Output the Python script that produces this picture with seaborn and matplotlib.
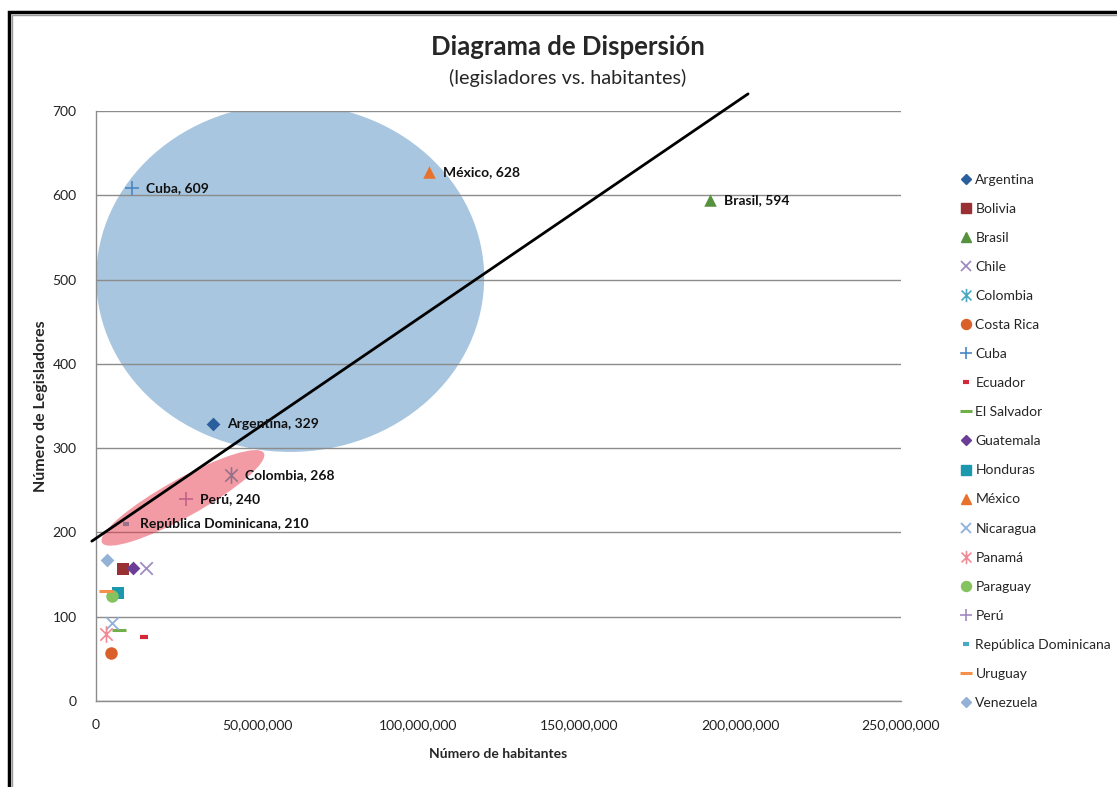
import matplotlib
matplotlib.use("Agg")
import matplotlib.pyplot as plt
from matplotlib.patches import Ellipse, Rectangle
from matplotlib.lines import Line2D
from matplotlib.path import Path
from matplotlib.ticker import FuncFormatter
import matplotlib.transforms as mtransforms
import seaborn as sns
import numpy as np

# data
paises = ["Argentina", "Bolivia", "Brasil", "Chile", "Colombia", "Costa Rica",
          "Cuba", "Ecuador", "El Salvador", "Guatemala", "Honduras", "México",
          "Nicaragua", "Panamá", "Paraguay", "Perú", "República Dominicana",
          "Uruguay", "Venezuela"]
habitantes = [36.3e6, 8.5e6, 190.7e6, 15.4e6, 41.9e6, 4.6e6,
              11.2e6, 15.0e6, 7.1e6, 11.4e6, 6.7e6, 103.4e6,
              5.1e6, 3.0e6, 5.1e6, 27.9e6, 9.3e6,
              3.1e6, 3.3e6]
legisladores = [329, 157, 594, 158, 268, 57,
                609, 76, 84, 158, 128, 628,
                92, 80, 125, 240, 210,
                130, 167]
etiquetados = ["Argentina", "Brasil", "Colombia", "Cuba", "México", "Perú",
               "República Dominicana"]

# trend line
tendencia_intercepto = 193
tendencia_pendiente = 2.604e-6
tendencia_x = [-1.3e6, 202.5e6]

# excel-style star: an x with a vertical bar
estrella = Path([(-1, -1), (1, 1), (-1, 1), (1, -1), (0, -1.35), (0, 1.35)],
                [Path.MOVETO, Path.LINETO] * 3)

# styles per country: marker, colour, size, edge width
estilos = {
    "Argentina": ("D", "#2a5e9c", 7, 0),
    "Bolivia": ("s", "#983034", 9, 0),
    "Brasil": ("^", "#55913f", 9, 0),
    "Chile": ("x", "#9f8cc2", 9, 1.3),
    "Colombia": (estrella, "#4aa9c3", 12, 1.2),
    "Costa Rica": ("o", "#d9602a", 9, 0),
    "Cuba": ("+", "#4a86c4", 10, 1.2),
    "Ecuador": ("_", "#d4283a", 6, 3),
    "El Salvador": ("_", "#71b047", 10, 2.2),
    "Guatemala": ("D", "#6a3e96", 7, 0),
    "Honduras": ("s", "#1c98ae", 9, 0),
    "México": ("^", "#e8722d", 9, 0),
    "Nicaragua": ("x", "#8fb0d8", 9, 1.3),
    "Panamá": (estrella, "#f08a94", 12, 1.2),
    "Paraguay": ("o", "#85c35f", 9, 0),
    "Perú": ("+", "#a28ac2", 10, 1.2),
    "República Dominicana": ("_", "#49aac8", 5, 3),
    "Uruguay": ("_", "#f5904a", 10, 2.2),
    "Venezuela": ("D", "#93b2d6", 7, 0),
}

sns.set_theme(style="white")
plt.rcParams["font.family"] = ["Lato", "DejaVu Sans"]

fig = plt.figure(figsize=(11.17, 7.87), dpi=100)
ax = fig.add_axes([96 / 1117, 86 / 787, 805 / 1117, 590 / 787])

ax.set_xlim(0, 250e6)
ax.set_ylim(0, 700)
ax.set_yticks(range(0, 701, 100))
ax.set_xticks(np.arange(0, 250e6 + 1, 50e6))
ax.xaxis.set_major_formatter(FuncFormatter(lambda v, p: "0" if v == 0 else f"{v:,.0f}"))
ax.yaxis.grid(True, color="#8c8c8c", linewidth=1.0)
ax.set_axisbelow(True)
for s in ["top", "right"]:
    ax.spines[s].set_visible(False)
for s in ["left", "bottom"]:
    ax.spines[s].set_color("#8c8c8c")
    ax.spines[s].set_linewidth(1.0)
ax.tick_params(axis="both", length=0, labelsize=10, colors="#222222")
ax.tick_params(axis="x", pad=13)
ax.tick_params(axis="y", pad=14)

# blue highlight sits behind the grid and the markers
ax.add_patch(Ellipse((60.3e6, 502), 120.5e6, 413, facecolor="#a8c6df",
                     edgecolor="none", zorder=0.3))

# trend line
tx = np.array(tendencia_x)
ax.plot(tx, tendencia_intercepto + tendencia_pendiente * tx, color="black",
        linewidth=2, clip_on=False, zorder=6)

handles = []
for nombre, xv, yv in zip(paises, habitantes, legisladores):
    m, c, ms, lw = estilos[nombre]
    sns.scatterplot(x=[xv], y=[yv], marker=m, color=c, s=ms ** 2,
                    linewidth=lw, edgecolor=c, ax=ax, zorder=4, legend=False)
    handles.append(Line2D([], [], linestyle="none", marker=m, color=c,
                          markersize=ms * 0.8, markeredgewidth=lw if lw else 1,
                          label=nombre))
    if nombre in etiquetados:
        ax.annotate(f"{nombre}, {yv}", (xv, yv), xytext=(10, 0),
                    textcoords="offset points", va="center", ha="left",
                    fontsize=10, fontweight="bold", color="#111111", zorder=7)

# red highlight is a translucent layer over the markers
tr = fig.dpi_scale_trans + mtransforms.ScaledTranslation(27e6, 241, ax.transData)
ax.add_patch(Ellipse((0, 0), 1.85, 0.38, angle=29, facecolor="#e6394d",
                     alpha=0.5, edgecolor="none", transform=tr, zorder=5))

ax.set_xlabel("Número de habitantes", fontsize=10, fontweight="bold", labelpad=12)
ax.set_ylabel("Número de Legisladores", fontsize=11.5, fontweight="bold", labelpad=3)

fig.text(568 / 1117, 1 - 47 / 787, "Diagrama de Dispersión", ha="center",
         va="center", fontsize=18.5, fontweight="bold")
fig.text(568 / 1117, 1 - 78 / 787, "(legisladores vs. habitantes)", ha="center",
         va="center", fontsize=14.3)

fig.legend(handles=handles, loc="upper left", bbox_to_anchor=(956 / 1117, 1 - 168 / 787),
           frameon=False, fontsize=10, handlelength=0.7, handletextpad=0.3,
           labelspacing=1.23, borderaxespad=0)

# outer frame
fig.patches.append(Rectangle((8.5 / 1117, -0.1), 1.2, 0.1 + (787 - 11.5) / 787,
                             transform=fig.transFigure, fill=False,
                             edgecolor="black", linewidth=2.5))
fig.patches.append(Rectangle((11.5 / 1117, -0.1), 1.2, 0.1 + (787 - 14.5) / 787,
                             transform=fig.transFigure, fill=False,
                             edgecolor="#9a9a9a", linewidth=1))

fig.savefig("out.png", dpi=100)
